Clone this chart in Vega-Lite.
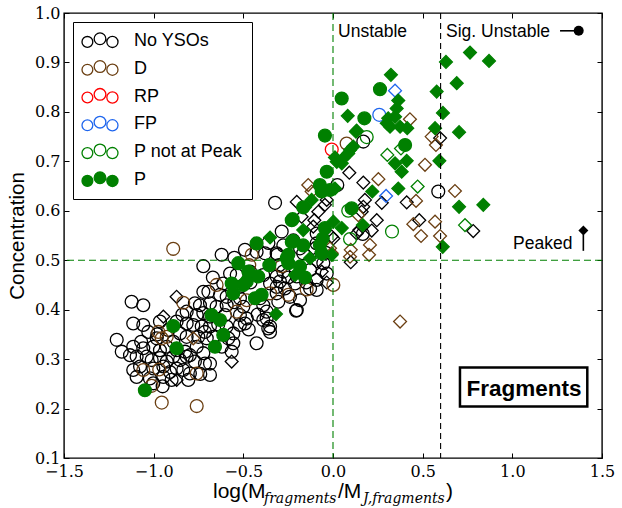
{
  "$schema": "https://vega.github.io/schema/vega-lite/v6.json",
  "width": 538,
  "height": 445,
  "autosize": {"type": "none"},
  "padding": {"left": 64, "top": 13, "right": 20, "bottom": 50},
  "background": "white",
  "config": {
    "view": {"stroke": "black", "strokeWidth": 1.4},
    "axis": {"grid": false, "domain": false, "tickColor": "black", "tickWidth": 1, "labelColor": "black"}
  },
  "datasets": {
    "pts": [
      {"x":-0.491,"y":0.521,"c":"No YSOs","s":"circle"},{"x":-0.621,"y":0.511,"c":"No YSOs","s":"circle"},{"x":-0.723,"y":0.488,"c":"No YSOs","s":"circle"},{"x":-0.379,"y":0.514,"c":"No YSOs","s":"circle"},{"x":-0.426,"y":0.517,"c":"No YSOs","s":"circle"},{"x":-0.314,"y":0.514,"c":"No YSOs","s":"circle"},{"x":-0.091,"y":0.534,"c":"No YSOs","s":"circle"},{"x":-0.166,"y":0.514,"c":"No YSOs","s":"circle"},{"x":-0.054,"y":0.494,"c":"No YSOs","s":"circle"},
      {"x":-0.574,"y":0.473,"c":"No YSOs","s":"circle"},{"x":-0.537,"y":0.470,"c":"No YSOs","s":"circle"},{"x":-0.463,"y":0.477,"c":"No YSOs","s":"circle"},{"x":-0.389,"y":0.470,"c":"No YSOs","s":"circle"},{"x":-0.314,"y":0.467,"c":"No YSOs","s":"circle"},{"x":-0.277,"y":0.477,"c":"No YSOs","s":"circle"},{"x":-0.202,"y":0.467,"c":"No YSOs","s":"circle"},{"x":-0.128,"y":0.480,"c":"No YSOs","s":"circle"},{"x":-0.091,"y":0.460,"c":"No YSOs","s":"circle"},{"x":-0.035,"y":0.473,"c":"No YSOs","s":"circle"},
      {"x":-0.612,"y":0.453,"c":"No YSOs","s":"circle"},{"x":-0.519,"y":0.446,"c":"No YSOs","s":"circle"},{"x":-0.351,"y":0.453,"c":"No YSOs","s":"circle"},{"x":-0.314,"y":0.446,"c":"No YSOs","s":"circle"},{"x":-0.296,"y":0.457,"c":"No YSOs","s":"circle"},{"x":-0.268,"y":0.443,"c":"No YSOs","s":"circle"},{"x":-0.212,"y":0.453,"c":"No YSOs","s":"circle"},{"x":-0.091,"y":0.440,"c":"No YSOs","s":"circle"},{"x":-0.128,"y":0.443,"c":"No YSOs","s":"circle"},
      {"x":-0.723,"y":0.436,"c":"No YSOs","s":"circle"},{"x":-0.695,"y":0.436,"c":"No YSOs","s":"circle"},{"x":-0.630,"y":0.430,"c":"No YSOs","s":"circle"},{"x":-0.593,"y":0.426,"c":"No YSOs","s":"circle"},{"x":-0.519,"y":0.423,"c":"No YSOs","s":"circle"},{"x":-0.407,"y":0.423,"c":"No YSOs","s":"circle"},{"x":-0.314,"y":0.433,"c":"No YSOs","s":"circle"},{"x":-0.305,"y":0.416,"c":"No YSOs","s":"circle"},{"x":-0.240,"y":0.426,"c":"No YSOs","s":"circle"},{"x":-0.184,"y":0.419,"c":"No YSOs","s":"circle"},
      {"x":-0.770,"y":0.413,"c":"No YSOs","s":"circle"},{"x":-0.742,"y":0.409,"c":"No YSOs","s":"circle"},{"x":-0.686,"y":0.413,"c":"No YSOs","s":"circle"},{"x":-0.649,"y":0.406,"c":"No YSOs","s":"circle"},{"x":-0.593,"y":0.409,"c":"No YSOs","s":"circle"},{"x":-0.500,"y":0.406,"c":"No YSOs","s":"circle"},{"x":-0.389,"y":0.409,"c":"No YSOs","s":"circle"},{"x":-0.370,"y":0.396,"c":"No YSOs","s":"circle"},{"x":-0.202,"y":0.399,"c":"No YSOs","s":"circle"},
      {"x":-0.816,"y":0.396,"c":"No YSOs","s":"circle"},{"x":-0.760,"y":0.389,"c":"No YSOs","s":"circle"},{"x":-0.723,"y":0.393,"c":"No YSOs","s":"circle"},{"x":-0.686,"y":0.386,"c":"No YSOs","s":"circle"},{"x":-0.602,"y":0.389,"c":"No YSOs","s":"circle"},{"x":-0.519,"y":0.389,"c":"No YSOs","s":"circle"},{"x":-0.481,"y":0.382,"c":"No YSOs","s":"circle"},{"x":-0.389,"y":0.379,"c":"No YSOs","s":"circle"},{"x":-0.361,"y":0.362,"c":"No YSOs","s":"circle"},{"x":-0.351,"y":0.355,"c":"No YSOs","s":"circle"},
      {"x":-0.965,"y":0.376,"c":"No YSOs","s":"circle"},{"x":-0.872,"y":0.376,"c":"No YSOs","s":"circle"},{"x":-0.816,"y":0.372,"c":"No YSOs","s":"circle"},{"x":-0.779,"y":0.369,"c":"No YSOs","s":"circle"},{"x":-0.732,"y":0.366,"c":"No YSOs","s":"circle"},{"x":-0.714,"y":0.355,"c":"No YSOs","s":"circle"},{"x":-0.686,"y":0.366,"c":"No YSOs","s":"circle"},{"x":-0.593,"y":0.366,"c":"No YSOs","s":"circle"},{"x":-0.556,"y":0.352,"c":"No YSOs","s":"circle"},{"x":-0.519,"y":0.369,"c":"No YSOs","s":"circle"},{"x":-0.491,"y":0.372,"c":"No YSOs","s":"circle"},
      {"x":-1.058,"y":0.369,"c":"No YSOs","s":"circle"},{"x":-1.030,"y":0.355,"c":"No YSOs","s":"circle"},{"x":-0.983,"y":0.342,"c":"No YSOs","s":"circle"},{"x":-0.919,"y":0.359,"c":"No YSOs","s":"circle"},{"x":-0.853,"y":0.352,"c":"No YSOs","s":"circle"},{"x":-0.816,"y":0.345,"c":"No YSOs","s":"circle"},{"x":-0.751,"y":0.345,"c":"No YSOs","s":"circle"},{"x":-0.704,"y":0.342,"c":"No YSOs","s":"circle"},{"x":-0.668,"y":0.345,"c":"No YSOs","s":"circle"},{"x":-0.584,"y":0.342,"c":"No YSOs","s":"circle"},{"x":-0.556,"y":0.332,"c":"No YSOs","s":"circle"},{"x":-0.426,"y":0.332,"c":"No YSOs","s":"circle"},
      {"x":-1.114,"y":0.325,"c":"No YSOs","s":"circle"},{"x":-1.058,"y":0.322,"c":"No YSOs","s":"circle"},{"x":-1.002,"y":0.325,"c":"No YSOs","s":"circle"},{"x":-0.965,"y":0.318,"c":"No YSOs","s":"circle"},{"x":-0.927,"y":0.325,"c":"No YSOs","s":"circle"},{"x":-0.872,"y":0.318,"c":"No YSOs","s":"circle"},{"x":-0.825,"y":0.315,"c":"No YSOs","s":"circle"},{"x":-0.798,"y":0.308,"c":"No YSOs","s":"circle"},{"x":-0.760,"y":0.325,"c":"No YSOs","s":"circle"},{"x":-0.723,"y":0.312,"c":"No YSOs","s":"circle"},{"x":-0.565,"y":0.315,"c":"No YSOs","s":"circle"},
      {"x":-1.132,"y":0.308,"c":"No YSOs","s":"circle"},{"x":-1.095,"y":0.305,"c":"No YSOs","s":"circle"},{"x":-1.039,"y":0.305,"c":"No YSOs","s":"circle"},{"x":-1.011,"y":0.298,"c":"No YSOs","s":"circle"},{"x":-0.965,"y":0.302,"c":"No YSOs","s":"circle"},{"x":-0.927,"y":0.295,"c":"No YSOs","s":"circle"},{"x":-0.891,"y":0.305,"c":"No YSOs","s":"circle"},{"x":-0.853,"y":0.298,"c":"No YSOs","s":"circle"},{"x":-0.816,"y":0.305,"c":"No YSOs","s":"circle"},{"x":-0.714,"y":0.291,"c":"No YSOs","s":"circle"},{"x":-0.686,"y":0.291,"c":"No YSOs","s":"circle"},
      {"x":-1.114,"y":0.278,"c":"No YSOs","s":"circle"},{"x":-1.076,"y":0.285,"c":"No YSOs","s":"circle"},{"x":-1.002,"y":0.281,"c":"No YSOs","s":"circle"},{"x":-0.946,"y":0.285,"c":"No YSOs","s":"circle"},{"x":-0.909,"y":0.274,"c":"No YSOs","s":"circle"},{"x":-0.872,"y":0.281,"c":"No YSOs","s":"circle"},{"x":-0.835,"y":0.278,"c":"No YSOs","s":"circle"},{"x":-0.798,"y":0.271,"c":"No YSOs","s":"circle"},{"x":-0.686,"y":0.268,"c":"No YSOs","s":"circle"},
      {"x":-1.095,"y":0.264,"c":"No YSOs","s":"circle"},{"x":-1.021,"y":0.261,"c":"No YSOs","s":"circle"},{"x":-0.946,"y":0.264,"c":"No YSOs","s":"circle"},{"x":-0.900,"y":0.258,"c":"No YSOs","s":"circle"},{"x":-0.807,"y":0.258,"c":"No YSOs","s":"circle"},{"x":-1.002,"y":0.251,"c":"No YSOs","s":"circle"},
      {"x":-1.123,"y":0.416,"c":"No YSOs","s":"circle"},{"x":-1.058,"y":0.409,"c":"No YSOs","s":"circle"},{"x":-1.114,"y":0.372,"c":"No YSOs","s":"circle"},{"x":-1.206,"y":0.339,"c":"No YSOs","s":"circle"},{"x":-1.178,"y":0.315,"c":"No YSOs","s":"circle"},
      {"x":-0.323,"y":0.616,"c":"No YSOs","s":"circle"},{"x":-0.286,"y":0.558,"c":"No YSOs","s":"circle"},{"x":0.024,"y":0.652,"c":"No YSOs","s":"circle"},{"x":0.169,"y":0.740,"c":"No YSOs","s":"circle"},{"x":0.166,"y":0.553,"c":"No YSOs","s":"circle"},{"x":0.587,"y":0.639,"c":"No YSOs","s":"circle"},{"x":-0.311,"y":0.511,"c":"No YSOs","s":"circle"},{"x":-0.206,"y":0.398,"c":"No YSOs","s":"circle"},{"x":-0.370,"y":0.382,"c":"No YSOs","s":"circle"},{"x":-0.351,"y":0.366,"c":"No YSOs","s":"circle"},{"x":-0.091,"y":0.554,"c":"No YSOs","s":"circle"},{"x":-0.277,"y":0.530,"c":"No YSOs","s":"circle"},{"x":-0.221,"y":0.540,"c":"No YSOs","s":"circle"},{"x":-0.184,"y":0.524,"c":"No YSOs","s":"circle"},
      {"x":-0.55,"y":0.505,"c":"No YSOs","s":"circle"},{"x":-0.36,"y":0.535,"c":"No YSOs","s":"circle"},{"x":-0.30,"y":0.49,"c":"No YSOs","s":"circle"},{"x":-0.46,"y":0.455,"c":"No YSOs","s":"circle"},{"x":-0.42,"y":0.39,"c":"No YSOs","s":"circle"},{"x":-0.47,"y":0.36,"c":"No YSOs","s":"circle"},{"x":-0.64,"y":0.37,"c":"No YSOs","s":"circle"},{"x":-0.62,"y":0.325,"c":"No YSOs","s":"circle"},{"x":-0.77,"y":0.295,"c":"No YSOs","s":"circle"},{"x":-0.98,"y":0.35,"c":"No YSOs","s":"circle"},{"x":-0.89,"y":0.335,"c":"No YSOs","s":"circle"},{"x":-1.07,"y":0.335,"c":"No YSOs","s":"circle"},{"x":-0.84,"y":0.39,"c":"No YSOs","s":"circle"},{"x":-0.55,"y":0.415,"c":"No YSOs","s":"circle"},{"x":-0.67,"y":0.465,"c":"No YSOs","s":"circle"},{"x":-0.25,"y":0.465,"c":"No YSOs","s":"circle"},{"x":-0.15,"y":0.455,"c":"No YSOs","s":"circle"},{"x":-0.04,"y":0.515,"c":"No YSOs","s":"circle"},{"x":-0.74,"y":0.27,"c":"No YSOs","s":"circle"},{"x":-0.95,"y":0.245,"c":"No YSOs","s":"circle"},
      {"x":-0.872,"y":0.426,"c":"No YSOs","s":"diamond"},{"x":-0.946,"y":0.386,"c":"No YSOs","s":"diamond"},{"x":-0.565,"y":0.295,"c":"No YSOs","s":"diamond"},{"x":-0.872,"y":0.258,"c":"No YSOs","s":"diamond"},{"x":0.091,"y":0.677,"c":"No YSOs","s":"diamond"},{"x":0.169,"y":0.657,"c":"No YSOs","s":"diamond"},{"x":0.272,"y":0.616,"c":"No YSOs","s":"diamond"},{"x":0.411,"y":0.617,"c":"No YSOs","s":"diamond"},{"x":0.169,"y":0.608,"c":"No YSOs","s":"diamond"},{"x":0.160,"y":0.598,"c":"No YSOs","s":"diamond"},{"x":0.244,"y":0.581,"c":"No YSOs","s":"diamond"},{"x":0.481,"y":0.581,"c":"No YSOs","s":"diamond"},{"x":0.147,"y":0.561,"c":"No YSOs","s":"diamond"},{"x":0.216,"y":0.560,"c":"No YSOs","s":"diamond"},{"x":0.099,"y":0.496,"c":"No YSOs","s":"diamond"},{"x":0.002,"y":0.544,"c":"No YSOs","s":"diamond"},{"x":-0.035,"y":0.622,"c":"No YSOs","s":"diamond"},{"x":-0.045,"y":0.612,"c":"No YSOs","s":"diamond"},{"x":-0.202,"y":0.618,"c":"No YSOs","s":"diamond"},{"x":0.178,"y":0.622,"c":"No YSOs","s":"diamond"},{"x":-0.175,"y":0.588,"c":"No YSOs","s":"diamond"},{"x":-0.082,"y":0.598,"c":"No YSOs","s":"diamond"},{"x":-0.104,"y":0.581,"c":"No YSOs","s":"diamond"},{"x":-0.110,"y":0.568,"c":"No YSOs","s":"diamond"},{"x":-0.007,"y":0.548,"c":"No YSOs","s":"diamond"},{"x":0.132,"y":0.554,"c":"No YSOs","s":"diamond"},{"x":-0.110,"y":0.524,"c":"No YSOs","s":"diamond"},{"x":0.597,"y":0.747,"c":"No YSOs","s":"diamond"},{"x":0.782,"y":0.559,"c":"No YSOs","s":"diamond"},{"x":-0.091,"y":0.497,"c":"No YSOs","s":"diamond"},{"x":-0.035,"y":0.455,"c":"No YSOs","s":"diamond"},{"x":-0.063,"y":0.477,"c":"No YSOs","s":"diamond"},
      {"x":0.076,"y":0.736,"c":"D","s":"circle"},{"x":-0.891,"y":0.523,"c":"D","s":"circle"},{"x":-0.453,"y":0.511,"c":"D","s":"circle"},{"x":-0.467,"y":0.490,"c":"D","s":"circle"},{"x":-0.649,"y":0.450,"c":"D","s":"circle"},{"x":-0.249,"y":0.430,"c":"D","s":"circle"},{"x":-0.147,"y":0.441,"c":"D","s":"circle"},{"x":-0.481,"y":0.419,"c":"D","s":"circle"},{"x":-0.537,"y":0.396,"c":"D","s":"circle"},{"x":-0.974,"y":0.355,"c":"D","s":"circle"},{"x":-0.955,"y":0.342,"c":"D","s":"circle"},{"x":-0.927,"y":0.345,"c":"D","s":"circle"},{"x":-0.835,"y":0.414,"c":"D","s":"circle"},{"x":-1.058,"y":0.278,"c":"D","s":"circle"},{"x":-0.969,"y":0.279,"c":"D","s":"circle"},{"x":-0.760,"y":0.271,"c":"D","s":"circle"},{"x":-1.011,"y":0.246,"c":"D","s":"circle"},{"x":-0.955,"y":0.212,"c":"D","s":"circle"},{"x":-0.760,"y":0.205,"c":"D","s":"circle"},{"x":0.002,"y":0.450,"c":"D","s":"circle"},{"x":-0.351,"y":0.433,"c":"D","s":"circle"},{"x":-0.286,"y":0.488,"c":"D","s":"circle"},
      {"x":0.429,"y":0.785,"c":"D","s":"diamond"},{"x":0.513,"y":0.693,"c":"D","s":"diamond"},{"x":0.253,"y":0.664,"c":"D","s":"diamond"},{"x":0.463,"y":0.620,"c":"D","s":"diamond"},{"x":0.448,"y":0.573,"c":"D","s":"diamond"},{"x":0.491,"y":0.549,"c":"D","s":"diamond"},{"x":0.206,"y":0.531,"c":"D","s":"diamond"},{"x":0.201,"y":0.511,"c":"D","s":"diamond"},{"x":0.099,"y":0.521,"c":"D","s":"diamond"},{"x":0.374,"y":0.376,"c":"D","s":"diamond"},{"x":-0.007,"y":0.514,"c":"D","s":"diamond"},{"x":-0.138,"y":0.652,"c":"D","s":"diamond"},{"x":-0.119,"y":0.639,"c":"D","s":"diamond"},{"x":0.141,"y":0.591,"c":"D","s":"diamond"},{"x":-0.017,"y":0.524,"c":"D","s":"diamond"},{"x":0.095,"y":0.507,"c":"D","s":"diamond"},{"x":-0.779,"y":0.342,"c":"D","s":"diamond"},{"x":0.550,"y":0.750,"c":"D","s":"diamond"},{"x":0.574,"y":0.733,"c":"D","s":"diamond"},{"x":0.680,"y":0.640,"c":"D","s":"diamond"},{"x":0.569,"y":0.578,"c":"D","s":"diamond"},{"x":0.597,"y":0.549,"c":"D","s":"diamond"},
      {"x":-0.007,"y":0.724,"c":"RP","s":"circle"},
      {"x":0.258,"y":0.794,"c":"FP","s":"circle"},{"x":0.346,"y":0.843,"c":"FP","s":"diamond"},{"x":0.296,"y":0.630,"c":"FP","s":"diamond"},
      {"x":0.188,"y":0.749,"c":"P not at Peak","s":"circle"},{"x":0.085,"y":0.600,"c":"P not at Peak","s":"circle"},{"x":0.329,"y":0.558,"c":"P not at Peak","s":"circle"},{"x":0.095,"y":0.543,"c":"P not at Peak","s":"circle"},
      {"x":0.303,"y":0.713,"c":"P not at Peak","s":"diamond"},{"x":0.379,"y":0.726,"c":"P not at Peak","s":"diamond"},{"x":0.472,"y":0.649,"c":"P not at Peak","s":"diamond"},{"x":0.736,"y":0.571,"c":"P not at Peak","s":"diamond"},
      {"x":0.0485,"y":0.827,"c":"P","s":"circle"},{"x":0.262,"y":0.846,"c":"P","s":"circle"},{"x":0.175,"y":0.787,"c":"P","s":"circle"},{"x":0.402,"y":0.733,"c":"P","s":"circle"},{"x":-0.045,"y":0.752,"c":"P","s":"circle"},{"x":-0.035,"y":0.679,"c":"P","s":"circle"},{"x":-0.073,"y":0.652,"c":"P","s":"circle"},{"x":-0.063,"y":0.639,"c":"P","s":"circle"},{"x":-0.017,"y":0.642,"c":"P","s":"circle"},{"x":-0.166,"y":0.607,"c":"P","s":"circle"},{"x":0.104,"y":0.605,"c":"P","s":"circle"},{"x":-0.225,"y":0.583,"c":"P","s":"circle"},{"x":-0.045,"y":0.565,"c":"P","s":"circle"},{"x":-0.057,"y":0.544,"c":"P","s":"circle"},{"x":-0.221,"y":0.539,"c":"P","s":"circle"},{"x":-0.249,"y":0.511,"c":"P","s":"circle"},{"x":-0.073,"y":0.531,"c":"P","s":"circle"},{"x":-0.063,"y":0.514,"c":"P","s":"circle"},{"x":-0.426,"y":0.534,"c":"P","s":"circle"},{"x":-0.230,"y":0.581,"c":"P","s":"circle"},{"x":-0.528,"y":0.494,"c":"P","s":"circle"},{"x":-0.355,"y":0.490,"c":"P","s":"circle"},{"x":-0.258,"y":0.504,"c":"P","s":"circle"},{"x":-0.249,"y":0.494,"c":"P","s":"circle"},{"x":-0.230,"y":0.537,"c":"P","s":"circle"},{"x":-0.166,"y":0.530,"c":"P","s":"circle"},{"x":-0.184,"y":0.487,"c":"P","s":"circle"},{"x":-0.156,"y":0.465,"c":"P","s":"circle"},{"x":-0.472,"y":0.477,"c":"P","s":"circle"},{"x":-0.417,"y":0.467,"c":"P","s":"circle"},{"x":-0.481,"y":0.457,"c":"P","s":"circle"},{"x":-0.565,"y":0.453,"c":"P","s":"circle"},{"x":-0.500,"y":0.450,"c":"P","s":"circle"},{"x":-0.556,"y":0.433,"c":"P","s":"circle"},{"x":-0.398,"y":0.430,"c":"P","s":"circle"},{"x":-0.435,"y":0.423,"c":"P","s":"circle"},{"x":-0.677,"y":0.389,"c":"P","s":"circle"},{"x":-0.630,"y":0.379,"c":"P","s":"circle"},{"x":-0.612,"y":0.349,"c":"P","s":"circle"},{"x":-0.658,"y":0.325,"c":"P","s":"circle"},{"x":-0.891,"y":0.367,"c":"P","s":"circle"},{"x":-0.872,"y":0.322,"c":"P","s":"circle"},{"x":-1.049,"y":0.237,"c":"P","s":"circle"},
      {"x":0.323,"y":0.875,"c":"P","s":"diamond"},{"x":0.082,"y":0.792,"c":"P","s":"diamond"},{"x":0.364,"y":0.823,"c":"P","s":"diamond"},{"x":0.355,"y":0.807,"c":"P","s":"diamond"},{"x":0.308,"y":0.787,"c":"P","s":"diamond"},{"x":0.346,"y":0.790,"c":"P","s":"diamond"},{"x":0.318,"y":0.770,"c":"P","s":"diamond"},{"x":0.374,"y":0.770,"c":"P","s":"diamond"},{"x":0.414,"y":0.767,"c":"P","s":"diamond"},{"x":0.300,"y":0.777,"c":"P","s":"diamond"},{"x":0.132,"y":0.762,"c":"P","s":"diamond"},{"x":0.095,"y":0.723,"c":"P","s":"diamond"},{"x":0.057,"y":0.706,"c":"P","s":"diamond"},{"x":0.021,"y":0.699,"c":"P","s":"diamond"},{"x":0.411,"y":0.701,"c":"P","s":"diamond"},{"x":0.346,"y":0.696,"c":"P","s":"diamond"},{"x":0.383,"y":0.679,"c":"P","s":"diamond"},{"x":0.219,"y":0.639,"c":"P","s":"diamond"},{"x":0.364,"y":0.645,"c":"P","s":"diamond"},{"x":0.049,"y":0.565,"c":"P","s":"diamond"},{"x":0.002,"y":0.578,"c":"P","s":"diamond"},{"x":0.166,"y":0.571,"c":"P","s":"diamond"},{"x":0.011,"y":0.708,"c":"P","s":"diamond"},{"x":0.049,"y":0.696,"c":"P","s":"diamond"},{"x":0.085,"y":0.716,"c":"P","s":"diamond"},{"x":0.113,"y":0.730,"c":"P","s":"diamond"},{"x":0.128,"y":0.760,"c":"P","s":"diamond"},{"x":0.011,"y":0.645,"c":"P","s":"diamond"},{"x":-0.119,"y":0.622,"c":"P","s":"diamond"},{"x":-0.156,"y":0.607,"c":"P","s":"diamond"},{"x":-0.166,"y":0.561,"c":"P","s":"diamond"},{"x":-0.351,"y":0.546,"c":"P","s":"diamond"},{"x":-0.007,"y":0.511,"c":"P","s":"diamond"},{"x":-0.128,"y":0.504,"c":"P","s":"diamond"},{"x":-0.063,"y":0.517,"c":"P","s":"diamond"},{"x":-0.212,"y":0.470,"c":"P","s":"diamond"},{"x":-0.318,"y":0.391,"c":"P","s":"diamond"},
      {"x":0.764,"y":0.920,"c":"P","s":"diamond"},{"x":0.630,"y":0.901,"c":"P","s":"diamond"},{"x":0.870,"y":0.903,"c":"P","s":"diamond"},{"x":0.690,"y":0.858,"c":"P","s":"diamond"},{"x":0.578,"y":0.841,"c":"P","s":"diamond"},{"x":0.613,"y":0.798,"c":"P","s":"diamond"},{"x":0.569,"y":0.767,"c":"P","s":"diamond"},{"x":0.703,"y":0.759,"c":"P","s":"diamond"},{"x":0.593,"y":0.701,"c":"P","s":"diamond"},{"x":0.703,"y":0.608,"c":"P","s":"diamond"},{"x":0.838,"y":0.612,"c":"P","s":"diamond"},{"x":0.612,"y":0.527,"c":"P","s":"diamond"}
    ]
  },
  "layer": [
    {
      "data": {"name": "pts"},
      "mark": {"type": "point", "filled": false, "size": 165, "strokeWidth": 1.3, "opacity": 1},
      "encoding": {
        "x": {"field": "x", "type": "quantitative", "scale": {"domain": [-1.5, 1.5], "nice": false, "zero": false},
          "axis": {"orient": "bottom", "values": [-1.5, -1, -0.5, 0, 0.5, 1, 1.5], "format": ".1f", "tickSize": -5, "labelPadding": 10, "labelFont": "DejaVu Serif", "labelFontSize": 16, "labelFlush": false, "labelOverlap": false, "title": null}},
        "y": {"field": "y", "type": "quantitative", "scale": {"domain": [0.1, 1.0], "nice": false, "zero": false},
          "axis": {"orient": "left", "values": [0.1, 0.2, 0.3, 0.4, 0.5, 0.6, 0.7, 0.8, 0.9, 1.0], "format": ".1f", "tickSize": -5, "labelPadding": 9, "labelFont": "DejaVu Serif", "labelFontSize": 16, "labelFlush": false, "labelOverlap": false, "title": "Concentration", "titleFont": "Liberation Sans", "titleFontSize": 20.5, "titleFontWeight": "normal", "titleColor": "black", "titlePadding": 7}},
        "shape": {"field": "s", "type": "nominal", "scale": {"domain": ["circle", "diamond"], "range": ["circle", "diamond"]}, "legend": null},
        "stroke": {"field": "c", "type": "nominal",
          "scale": {"domain": ["No YSOs", "D", "RP", "FP", "P not at Peak", "P"], "range": ["#000000", "#6b3f12", "#ff0000", "#1f66ee", "#008000", "#008000"]},
          "legend": {"orient": "none", "legendX": 9, "legendY": 9, "title": null, "symbolType": "M -2 0.1 A 0.6 0.6 0 1 0 -0.8 0.1 A 0.6 0.6 0 1 0 -2 0.1 Z M -0.65 -0.25 A 0.65 0.65 0 1 0 0.65 -0.25 A 0.65 0.65 0 1 0 -0.65 -0.25 Z M 0.76 0.1 A 0.62 0.62 0 1 0 2 0.1 A 0.62 0.62 0 1 0 0.76 0.1 Z", "symbolSize": 324, "symbolOffset": 8, "labelOffset": 24, "labelFont": "Liberation Sans", "labelFontSize": 18, "labelColor": "black", "rowPadding": 6.8, "padding": 9, "strokeColor": "black", "fillColor": "white", "symbolStrokeWidth": 1.3, "labelLimit": 0}},
        "fill": {"field": "c", "type": "nominal",
          "scale": {"domain": ["No YSOs", "D", "RP", "FP", "P not at Peak", "P"], "range": ["transparent", "transparent", "transparent", "transparent", "transparent", "#008000"]},
          "legend": {"orient": "none", "legendX": 9, "legendY": 9, "title": null, "symbolType": "M -2 0.1 A 0.6 0.6 0 1 0 -0.8 0.1 A 0.6 0.6 0 1 0 -2 0.1 Z M -0.65 -0.25 A 0.65 0.65 0 1 0 0.65 -0.25 A 0.65 0.65 0 1 0 -0.65 -0.25 Z M 0.76 0.1 A 0.62 0.62 0 1 0 2 0.1 A 0.62 0.62 0 1 0 0.76 0.1 Z", "symbolSize": 324, "symbolOffset": 8, "labelOffset": 24, "labelFont": "Liberation Sans", "labelFontSize": 18, "labelColor": "black", "rowPadding": 6.8, "padding": 9, "strokeColor": "black", "fillColor": "white", "symbolStrokeWidth": 1.3, "labelLimit": 0}}
      }
    },
    {
      "data": {"values": [{"x": 0}]},
      "mark": {"type": "rule", "color": "#008000", "strokeDash": [7, 4], "strokeWidth": 1.1},
      "encoding": {"x": {"field": "x", "type": "quantitative", "scale": {"domain": [-1.5, 1.5], "nice": false, "zero": false}, "axis": null}}
    },
    {
      "data": {"values": [{"x": 0.6}]},
      "mark": {"type": "rule", "color": "#000000", "strokeDash": [6, 4], "strokeWidth": 1.1},
      "encoding": {"x": {"field": "x", "type": "quantitative", "scale": {"domain": [-1.5, 1.5], "nice": false, "zero": false}, "axis": null}}
    },
    {
      "data": {"values": [{"y": 0.5}]},
      "mark": {"type": "rule", "color": "#008000", "strokeDash": [7, 4], "strokeWidth": 1.1},
      "encoding": {"y": {"field": "y", "type": "quantitative", "scale": {"domain": [0.1, 1.0], "nice": false, "zero": false}, "axis": null}}
    },
    {
      "data": {"values": [{"t": "Unstable", "x": 0.028, "y": 0.962}, {"t": "Sig. Unstable", "x": 0.630, "y": 0.962}, {"t": "Peaked", "x": 1.004, "y": 0.533}]},
      "mark": {"type": "text", "align": "left", "baseline": "middle", "font": "Liberation Sans", "fontSize": 17.5, "color": "black"},
      "encoding": {
        "x": {"field": "x", "type": "quantitative", "scale": {"domain": [-1.5, 1.5], "nice": false, "zero": false},
          "axis": {"orient": "top", "values": [-1.5, -1, -0.5, 0, 0.5, 1, 1.5], "labels": false, "tickSize": -5, "title": null}},
        "y": {"field": "y", "type": "quantitative", "scale": {"domain": [0.1, 1.0], "nice": false, "zero": false},
          "axis": {"orient": "right", "values": [0.1, 0.2, 0.3, 0.4, 0.5, 0.6, 0.7, 0.8, 0.9, 1.0], "labels": false, "tickSize": -5, "title": null}},
        "text": {"field": "t"}
      }
    },
    {
      "data": {"values": [{"x": 1.266, "x2": 1.36, "y": 0.964}]},
      "mark": {"type": "rule", "color": "black", "strokeWidth": 1.6},
      "encoding": {
        "x": {"field": "x", "type": "quantitative", "scale": {"domain": [-1.5, 1.5], "nice": false, "zero": false}, "axis": null},
        "x2": {"field": "x2"},
        "y": {"field": "y", "type": "quantitative", "scale": {"domain": [0.1, 1.0], "nice": false, "zero": false}, "axis": null}
      }
    },
    {
      "data": {"values": [{"x": 1.396, "y": 0.519, "y2": 0.552}]},
      "mark": {"type": "rule", "color": "black", "strokeWidth": 1.6},
      "encoding": {
        "x": {"field": "x", "type": "quantitative", "scale": {"domain": [-1.5, 1.5], "nice": false, "zero": false}, "axis": null},
        "y": {"field": "y", "type": "quantitative", "scale": {"domain": [0.1, 1.0], "nice": false, "zero": false}, "axis": null},
        "y2": {"field": "y2"}
      }
    },
    {
      "data": {"values": [{"x": 1.37, "y": 0.964, "s": "right"}, {"x": 1.396, "y": 0.560, "s": "up"}]},
      "mark": {"type": "point", "filled": true, "color": "black", "opacity": 1, "size": 100},
      "encoding": {
        "x": {"field": "x", "type": "quantitative", "scale": {"domain": [-1.5, 1.5], "nice": false, "zero": false}, "axis": null},
        "y": {"field": "y", "type": "quantitative", "scale": {"domain": [0.1, 1.0], "nice": false, "zero": false}, "axis": null},
        "shape": {"field": "s", "type": "nominal", "scale": {"domain": ["right", "up"], "range": ["M -1 -0.7 L 1 0 L -1 0.7 Z", "M -0.7 1 L 0 -1 L 0.7 1 Z"]}, "legend": null}
      }
    },
    {
      "data": {"values": [{"x": 0.708, "x2": 1.418, "y": 0.283, "y2": 0.204}]},
      "mark": {"type": "rect", "fill": "white", "stroke": "black", "strokeWidth": 2.5},
      "encoding": {
        "x": {"field": "x", "type": "quantitative", "scale": {"domain": [-1.5, 1.5], "nice": false, "zero": false}, "axis": null},
        "x2": {"field": "x2"},
        "y": {"field": "y", "type": "quantitative", "scale": {"domain": [0.1, 1.0], "nice": false, "zero": false}, "axis": null},
        "y2": {"field": "y2"}
      }
    },
    {
      "data": {"values": [{"t": "Fragments", "x": 1.065, "y": 0.226}]},
      "mark": {"type": "text", "align": "center", "baseline": "alphabetic", "font": "Liberation Sans", "fontWeight": "bold", "fontSize": 22.5, "color": "black"},
      "encoding": {
        "x": {"field": "x", "type": "quantitative", "scale": {"domain": [-1.5, 1.5], "nice": false, "zero": false}, "axis": null},
        "y": {"field": "y", "type": "quantitative", "scale": {"domain": [0.1, 1.0], "nice": false, "zero": false}, "axis": null},
        "text": {"field": "t"}
      }
    },
    {
      "data": {"values": [{"t": "log(M", "x": -0.669, "y": 0.019}, {"t": "/M", "x": 0.028, "y": 0.019}, {"t": ")", "x": 0.630, "y": 0.019}]},
      "mark": {"type": "text", "align": "left", "baseline": "alphabetic", "font": "Liberation Sans", "fontSize": 21, "color": "black"},
      "encoding": {
        "x": {"field": "x", "type": "quantitative", "scale": {"domain": [-1.5, 1.5], "nice": false, "zero": false}, "axis": null},
        "y": {"field": "y", "type": "quantitative", "scale": {"domain": [0.1, 1.0], "nice": false, "zero": false}, "axis": null},
        "text": {"field": "t"}
      }
    },
    {
      "data": {"values": [{"t": "fragments", "x": -0.385, "y": 0.009}, {"t": "J,fragments", "x": 0.167, "y": 0.009}]},
      "mark": {"type": "text", "align": "left", "baseline": "alphabetic", "font": "DejaVu Serif", "fontStyle": "italic", "fontSize": 14, "color": "black"},
      "encoding": {
        "x": {"field": "x", "type": "quantitative", "scale": {"domain": [-1.5, 1.5], "nice": false, "zero": false}, "axis": null},
        "y": {"field": "y", "type": "quantitative", "scale": {"domain": [0.1, 1.0], "nice": false, "zero": false}, "axis": null},
        "text": {"field": "t"}
      }
    }
  ],
  "resolve": {"axis": {"x": "independent", "y": "independent"}}
}
